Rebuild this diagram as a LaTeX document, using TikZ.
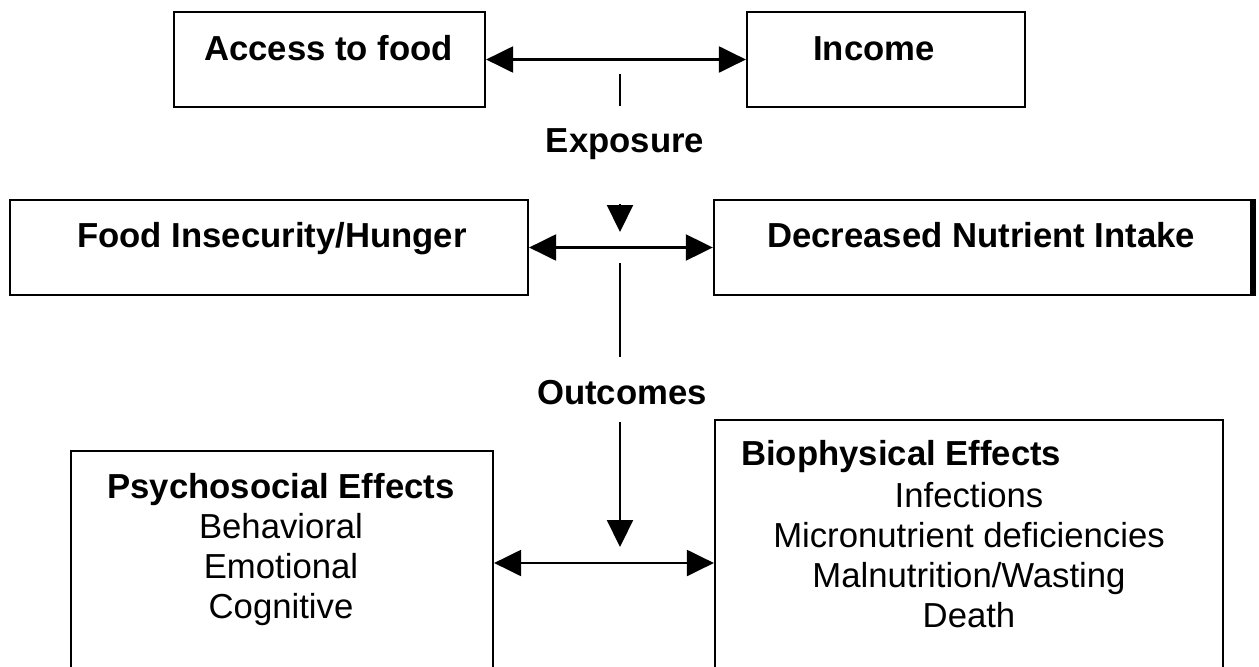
\documentclass[tikz,border=0pt]{standalone}
\usepackage{fontspec}
\setmainfont{Liberation Sans}
\usetikzlibrary{arrows.meta}
\begin{document}
\begin{tikzpicture}[x=1pt,y=-1pt,
  box/.style={draw, line width=2.2pt, inner sep=0pt, rectangle},
  lab/.style={inner sep=0pt, font=\fontsize{34.7}{40}\selectfont},
  blab/.style={inner sep=0pt, font=\fontsize{34.7}{40}\selectfont\bfseries},
  conn/.style={line width=2.2pt},
  tip/.tip={Triangle[length=27pt,width=26pt]},
  biarrow/.style={conn, tip-tip},
  darrow/.style={conn, -tip}]
\useasboundingbox (0,0) rectangle (1259,667);
\clip (0,0) rectangle (1259,667);
% boxes
\node[box, minimum width=311pt, minimum height=95pt] (access) at (329.5,59.5) {};
\node[box, minimum width=278pt, minimum height=95pt] (income) at (886,59.5) {};
\node[box, minimum width=518pt, minimum height=95pt] (food) at (269,247.5) {};
\node[box, minimum width=537pt, minimum height=95pt] (decr) at (1252,247.5) [anchor=east] {};
\node[box, minimum width=422pt, minimum height=260pt] (psych) at (282,581) {};
\node[box, minimum width=508pt, minimum height=290pt] (bio) at (969,565) {};
\draw[line width=4.5pt] ([xshift=2pt]decr.north east) -- ([xshift=2pt]decr.south east);
% texts
\node[blab, anchor=base west] (accesst) at (204,60) {Access to food};
\node[blab, anchor=base] (incomet) at (874,60) {Income};
\node[blab, anchor=base] (expo) at (625,152) {Exposure};
\node[blab, anchor=base west] (foodt) at (77,247) {Food Insecurity/Hunger};
\node[blab, anchor=base west] (decrt) at (767,247) {Decreased Nutrient Intake};
\node[blab, anchor=base] (outc) at (622,404) {Outcomes};
\node[blab, anchor=base] (psycht) at (281,498) {Psychosocial Effects};
\node[lab, anchor=base] (beh) at (281,538) {Behavioral};
\node[lab, anchor=base] (emo) at (281,578) {Emotional};
\node[lab, anchor=base] (cog) at (281,618) {Cognitive};
\node[blab, anchor=base west] (biot) at (741,465) {Biophysical Effects};
\node[lab, anchor=base] (inf) at (969,507) {Infections};
\node[lab, anchor=base] (mic) at (969,547) {Micronutrient deficiencies};
\node[lab, anchor=base] (mal) at (969,587) {Malnutrition/Wasting};
\node[lab, anchor=base] (dea) at (969,627) {Death};
% connector points
\coordinate (t1) at (620,74);
\coordinate (t2) at (620,106);
\coordinate (e1) at (620,204);
\coordinate (e2) at (620,232);
\coordinate (o1) at (620,263);
\coordinate (o2) at (620,357);
\coordinate (o3) at (620,422);
\coordinate (o4) at (620,547);
% connectors
\draw[biarrow] (access.east) -- (income.west);
\draw[conn] (t1) -- (t2);
\draw[darrow] (e1) -- (e2);
\draw[biarrow] (food.east) -- (decr.west);
\draw[conn] (o1) -- (o2);
\draw[darrow] (o3) -- (o4);
\draw[biarrow] ([yshift=18pt]psych.east) -- ([yshift=18pt]psych.east -| bio.west);
\end{tikzpicture}
\end{document}
